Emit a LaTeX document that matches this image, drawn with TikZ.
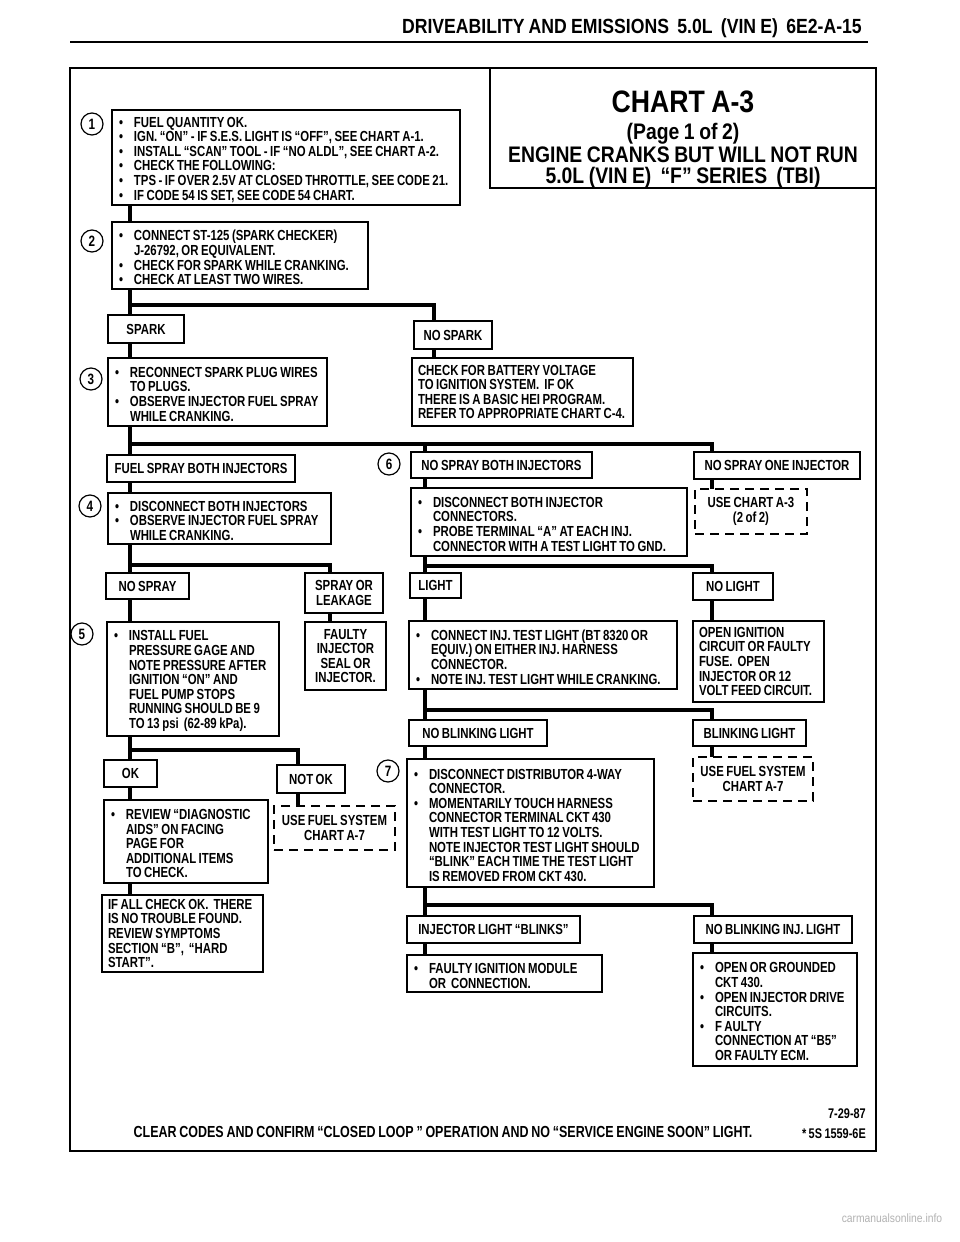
\documentclass[tikz,border=0pt]{standalone}
\usepackage{fontspec}
\setmainfont{Liberation Sans}[FakeStretch=0.86, WordSpace=0.85]
\newfontfamily\bodyfont{Liberation Sans}[FakeStretch=0.78, WordSpace=0.8]
\newfontfamily\footfont{Liberation Sans}[FakeStretch=0.78, WordSpace=0.8]
\usetikzlibrary{calc}
\pgfdeclarelayer{bg}
\pgfsetlayers{bg,main}
\setlength{\parindent}{0pt}
\frenchspacing
\newcommand\itm[1]{\par\hangindent=16pt\hangafter=1\noindent\hbox to 16pt{\hskip1pt\textbullet\hss}#1\par}
\newcommand\BX[7][box]{%
  \pgfmathsetmacro\bxw{#5-#3}%
  \pgfmathsetmacro\bxh{#6-#4}%
  \pgfmathsetmacro\bxt{#5-#3-12}%
  \node[#1, minimum width=\bxw pt, minimum height=\bxh pt, text width=\bxt pt] (#2) at ({(#3+#5)/2},{(#4+#6)/2}) {#7};}
\begin{document}
\begin{tikzpicture}[x=1pt,y=-1pt,
  box/.style={draw, line width=1.3pt, fill=white, inner xsep=6pt, inner ysep=0pt, outer sep=0pt, align=flush left, font=\bodyfont\bfseries\fontsize{14.6}{14.6}\selectfont},
  lbl/.style={box, align=flush center},
  dbox/.style={box, align=flush center, line width=2.6pt, dash pattern=on 9pt off 6pt},
  circ/.style={circle, draw, line width=1.2pt, minimum size=22pt, inner sep=0pt, fill=white, font=\bodyfont\bfseries\fontsize{15}{15}\selectfont},
  conn/.style={line width=3.6pt, line join=miter},
  frame/.style={line width=2pt}]
\useasboundingbox (0,0) rectangle (960,1242);
\begin{pgfonlayer}{bg}
\fill[white] (0,0) rectangle (960,1242);
\end{pgfonlayer}
% header
\node[anchor=base east, inner sep=0pt, font=\bfseries\fontsize{20.5}{21}\selectfont] (hdr) at (862,33) {DRIVEABILITY AND EMISSIONS~ 5.0L~ (VIN E)~ 6E2-A-15};
\draw[line width=2.2pt] (70,42) -- (868,42);
% frame
\draw[frame] (70,68) rectangle (876,1151);
\draw[frame] (490,68) -- (490,188) -- (876,188);
\node[anchor=base, inner sep=0pt, font=\bfseries\fontsize{31}{32}\selectfont] (t1) at (683,112) {CHART A-3};
\node[anchor=base, inner sep=0pt, font=\bfseries\fontsize{22.5}{23}\selectfont] (t2) at (683,139) {(Page 1 of 2)};
\node[anchor=base, inner sep=0pt, font=\bfseries\fontsize{22.5}{23}\selectfont] (t3) at (683,162) {ENGINE CRANKS BUT WILL NOT RUN};
\node[anchor=base, inner sep=0pt, font=\bfseries\fontsize{22.5}{23}\selectfont] (t4) at (683,183) {5.0L (VIN E)~ “F” SERIES~ (TBI)};
% boxes
\BX{b1}{112}{110}{460}{205}{\itm{FUEL QUANTITY OK.}\itm{IGN. “ON” - IF S.E.S. LIGHT IS “OFF”, SEE CHART A-1.}\itm{INSTALL “SCAN” TOOL - IF “NO ALDL”, SEE CHART A-2.}\itm{CHECK THE FOLLOWING:}\itm{TPS - IF OVER 2.5V AT CLOSED THROTTLE, SEE CODE 21.}\itm{IF CODE 54 IS SET, SEE CODE 54 CHART.}}
\BX{b2}{112}{222}{368}{289}{\itm{CONNECT ST-125 (SPARK CHECKER)\newline J-26792, OR EQUIVALENT.}\itm{CHECK FOR SPARK WHILE CRANKING.}\itm{CHECK AT LEAST TWO WIRES.}}
\BX[lbl]{sp}{108}{315}{184}{343}{SPARK}
\BX[lbl]{nsp}{414}{321}{492}{349}{NO SPARK}
\BX{b3}{108}{358}{327}{426}{\itm{RECONNECT SPARK PLUG WIRES\newline TO PLUGS.}\itm{OBSERVE INJECTOR FUEL SPRAY\newline WHILE CRANKING.}}
\BX{bat}{412}{358}{633}{426}{CHECK FOR BATTERY VOLTAGE\\ TO IGNITION SYSTEM.~ IF OK\\ THERE IS A BASIC HEI PROGRAM.\\ REFER TO APPROPRIATE CHART C-4.}
\BX[lbl]{fsb}{107}{455}{295}{482}{FUEL SPRAY BOTH INJECTORS}
\BX[lbl]{nsb}{411}{452}{592}{478}{NO SPRAY BOTH INJECTORS}
\BX[lbl]{nso}{694}{452}{860}{479}{NO SPRAY ONE INJECTOR}
\BX{b4}{108}{493}{331}{544}{\itm{DISCONNECT BOTH INJECTORS}\itm{OBSERVE INJECTOR FUEL SPRAY\newline WHILE CRANKING.}}
\BX{b6}{411}{488}{687}{556}{\itm{DISCONNECT BOTH INJECTOR\newline CONNECTORS.}\itm{PROBE TERMINAL “A” AT EACH INJ.\newline CONNECTOR WITH A TEST LIGHT TO GND.}}
\BX[dbox]{d1}{695}{489}{807}{534}{USE CHART A-3\\ (2 of 2)}
\BX[lbl]{ns}{106}{573}{189}{599}{NO SPRAY}
\BX[lbl]{sol}{305}{573}{383}{613}{SPRAY OR\\ LEAKAGE}
\BX[lbl]{lt}{410}{573}{461}{598}{LIGHT}
\BX[lbl]{nl}{693}{573}{773}{600}{NO LIGHT}
\BX{b5}{107}{622}{279}{736}{\itm{INSTALL FUEL\newline PRESSURE GAGE AND\newline NOTE PRESSURE AFTER\newline IGNITION “ON” AND\newline FUEL PUMP STOPS\newline RUNNING SHOULD BE 9\newline TO 13 psi~ (62-89 kPa).}}
\BX[lbl]{fi}{305}{622}{386}{690}{FAULTY\\ INJECTOR\\ SEAL OR\\ INJECTOR.}
\BX{ci}{409}{621}{677}{689}{\itm{CONNECT INJ. TEST LIGHT (BT 8320 OR\newline EQUIV.) ON EITHER INJ. HARNESS\newline CONNECTOR.}\itm{NOTE INJ. TEST LIGHT WHILE CRANKING.}}
\BX{oi}{693}{621}{824}{702}{OPEN IGNITION\\ CIRCUIT OR FAULTY\\ FUSE.~ OPEN\\ INJECTOR OR 12\\ VOLT FEED CIRCUIT.}
\BX[lbl]{nbl}{409}{720}{547}{746}{NO BLINKING LIGHT}
\BX[lbl]{bl}{693}{720}{806}{746}{BLINKING LIGHT}
\BX[lbl]{ok}{104}{760}{157}{787}{OK}
\BX[lbl]{nok}{277}{765}{345}{793}{NOT OK}
\BX[dbox]{d2}{274}{806}{395}{850}{USE FUEL SYSTEM\\ CHART A-7}
\BX{rv}{104}{800}{268}{883}{\itm{REVIEW “DIAGNOSTIC\newline AIDS” ON FACING\newline PAGE FOR\newline ADDITIONAL ITEMS\newline TO CHECK.}}
\BX[dbox]{d3}{693}{757}{813}{801}{USE FUEL SYSTEM\\ CHART A-7}
\BX{b7}{407}{759}{654}{887}{\itm{DISCONNECT DISTRIBUTOR 4-WAY\newline CONNECTOR.}\itm{MOMENTARILY TOUCH HARNESS\newline CONNECTOR TERMINAL CKT 430\newline WITH TEST LIGHT TO 12 VOLTS.\newline NOTE INJECTOR TEST LIGHT SHOULD\newline “BLINK” EACH TIME THE TEST LIGHT\newline IS REMOVED FROM CKT 430.}}
\BX{ia}{102}{895}{263}{972}{IF ALL CHECK OK.~ THERE\\ IS NO TROUBLE FOUND.\\ REVIEW SYMPTOMS\\ SECTION “B”,~ “HARD\\ START”.}
\BX[lbl]{ilb}{407}{916}{580}{943}{INJECTOR LIGHT “BLINKS”}
\BX{fim}{407}{955}{602}{992}{\itm{FAULTY IGNITION MODULE\newline OR~ CONNECTION.}}
\BX[lbl]{nbi}{694}{916}{852}{943}{NO BLINKING INJ. LIGHT}
\BX{og}{693}{953}{857}{1066}{\itm{OPEN OR GROUNDED\newline CKT 430.}\itm{OPEN INJECTOR DRIVE\newline CIRCUITS.}\itm{F AULTY\newline CONNECTION AT “B5”\newline OR FAULTY ECM.}}
% step circles
\node[circ] (c1) at (92,124) {1};
\node[circ] (c2) at (92,241) {2};
\node[circ] (c3) at (91,379) {3};
\node[circ] (c4) at (90,506) {4};
\node[circ] (c5) at (82,634) {5};
\node[circ] (c6) at (389,464) {6};
\node[circ] (c7) at (388,771) {7};
% connector columns and junctions
\coordinate (L) at (130,0);
\coordinate (M) at (425,0);
\coordinate (R) at (712,0);
\coordinate (S) at (330,0);
\coordinate (N) at (298,0);
\coordinate (P) at (434,0);
\coordinate (j1) at (130,305);
\coordinate (j2) at (130,444);
\coordinate (j3) at (130,565);
\coordinate (j4) at (425,566);
\coordinate (j5) at (130,750);
\coordinate (j6) at (425,710);
\coordinate (j7) at (425,905);
\begin{pgfonlayer}{bg}
\draw[conn] (b1.south -| L) -- (b2.north -| L);
\draw[conn] (b2.south -| L) -- (sp.north -| L);
\draw[conn] (j1) -| (nsp.north -| P);
\draw[conn] (sp.south -| L) -- (b3.north -| L);
\draw[conn] (nsp.south -| P) -- (bat.north -| P);
\draw[conn] (b3.south -| L) -- (fsb.north -| L);
\draw[conn] (j2) -| (nso.north -| R);
\draw[conn] (j2 -| M) -- (nsb.north -| M);
\draw[conn] (fsb.south -| L) -- (b4.north -| L);
\draw[conn] (nsb.south -| M) -- (b6.north -| M);
\draw[conn] (nso.south -| R) -- (d1.north -| R);
\draw[conn] (b4.south -| L) -- (ns.north -| L);
\draw[conn] (j3) -| (sol.north -| S);
\draw[conn] (b6.south -| M) -- (lt.north -| M);
\draw[conn] (j4) -| (nl.north -| R);
\draw[conn] (ns.south -| L) -- (b5.north -| L);
\draw[conn] (sol.south -| S) -- (fi.north -| S);
\draw[conn] (lt.south -| M) -- (ci.north -| M);
\draw[conn] (nl.south -| R) -- (oi.north -| R);
\draw[conn] (b5.south -| L) -- (ok.north -| L);
\draw[conn] (j5) -| (nok.north -| N);
\draw[conn] (ci.south -| M) -- (nbl.north -| M);
\draw[conn] (j6) -| (bl.north -| R);
\draw[conn] (ok.south -| L) -- (rv.north -| L);
\draw[conn] (rv.south -| L) -- (ia.north -| L);
\draw[conn] (nok.south -| N) -- (d2.north -| N);
\draw[conn] (nbl.south -| M) -- (b7.north -| M);
\draw[conn] (bl.south -| R) -- (d3.north -| R);
\draw[conn] (b7.south -| M) -- (ilb.north -| M);
\draw[conn] (j7) -| (nbi.north -| R);
\draw[conn] (ilb.south -| M) -- (fim.north -| M);
\draw[conn] (nbi.south -| R) -- (og.north -| R);
\end{pgfonlayer}
% footer
\node[anchor=base east, inner sep=0pt, font=\footfont\bfseries\fontsize{14}{14}\selectfont] (f1) at (866,1118) {7-29-87};
\node[anchor=base east, inner sep=0pt, font=\footfont\bfseries\fontsize{14}{14}\selectfont] (f2) at (866,1138) {* 5S 1559-6E};
\node[anchor=base, inner sep=0pt, font=\footfont\bfseries\fontsize{16}{16}\selectfont] (f3) at (443,1137) {CLEAR CODES AND CONFIRM “CLOSED LOOP ” OPERATION AND NO “SERVICE ENGINE SOON” LIGHT.};
\node[anchor=base, inner sep=0pt, text=black!30, font=\fontsize{12}{12}\selectfont] (wm) at (892,1222) {carmanualsonline.info};
\end{tikzpicture}
\end{document}
